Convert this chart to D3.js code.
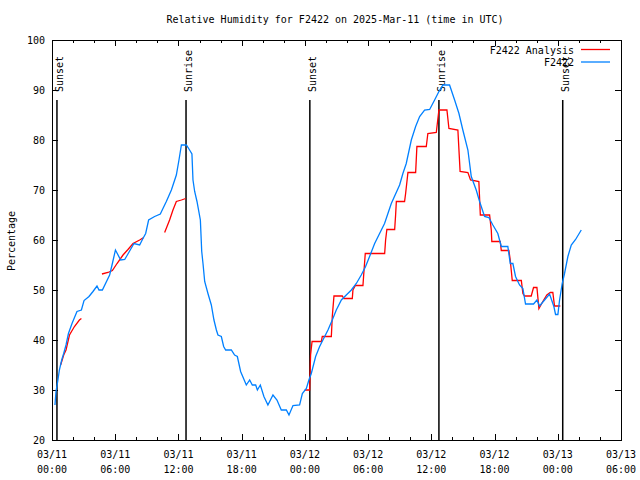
<!DOCTYPE html>
<html>
<head>
<meta charset="utf-8">
<script src="https://cdn.jsdelivr.net/npm/d3@7"></script>
<style>
body { margin: 0; background: #fff; }
text { font-family: "DejaVu Sans Mono", monospace; font-size: 10px; fill: #000; }
.axis path { display: none; }
.axis line { stroke: #000; shape-rendering: crispEdges; }
</style>
</head>
<body>
<svg id="chart" width="640" height="480"></svg>
<script>
// hours after 2025-03-11 00:00 UTC
var obsHours = [0.28, 0.38, 0.54, 0.70, 0.92, 1.11, 1.33, 1.56, 1.90, 2.37, 2.79, 3.04, 3.51, 3.89, 4.27, 4.46, 4.78,
    5.47, 5.73, 6.02, 6.52, 6.90, 7.15, 7.78, 8.32, 8.63, 8.89, 9.17, 9.74, 10.28, 10.53, 10.85, 11.33, 11.80, 12.05,
    12.28, 12.75, 12.97, 13.28, 13.38, 13.54, 13.76, 14.08, 14.21, 14.33, 14.49, 14.80, 15.12, 15.37, 15.60, 15.75,
    16.07, 16.29, 16.48, 17.02, 17.33, 17.59, 17.90, 18.44, 18.76, 19.01, 19.33, 19.49, 19.77, 20.11, 20.49, 20.97,
    21.35, 21.76, 22.24, 22.49, 22.87, 23.50, 23.76, 24.14, 24.38, 24.61, 25.02, 25.40, 25.71, 26.19, 26.60, 26.98,
    27.46, 27.93, 28.41, 28.88, 29.35, 29.76, 30.14, 30.62, 31.09, 31.56, 31.88, 32.20, 32.99, 33.30, 33.62, 34.10,
    34.51, 34.89, 35.36, 35.84, 36.31, 36.72, 37.10, 37.73, 38.21, 38.62, 38.99, 39.47, 39.79, 40.26, 40.58, 41.05,
    41.46, 41.84, 42.31, 42.64, 43.26, 43.49, 43.74, 43.99, 44.37, 44.69, 44.94, 45.70, 46.02, 46.27, 46.75, 47.22,
    47.63, 47.79, 48.01, 48.17, 48.42, 48.64, 48.96, 49.28, 49.69, 50.23];
var obsRH = [27, 29.7, 31.7, 34, 36, 37.3, 39, 41.3, 43.3, 45.7, 46, 47.9, 48.7, 49.7, 50.8, 50, 50,
    53, 55.3, 58, 56, 56.1, 57, 59.3, 59, 60.3, 61.3, 64, 64.7, 65.2, 66.3, 67.7, 70, 73, 76,
    79, 79, 78.3, 77.2, 72, 69.7, 67.7, 64, 57.7, 55.3, 51.7, 49.3, 47, 44, 42, 41,
    40.7, 38.7, 38, 38, 37, 36.7, 33.7, 31, 32, 31, 31, 30, 31, 28.7, 27, 29,
    28, 26, 26, 25, 26.9, 27, 29.3, 30.3, 32, 33.3, 36.7, 38.7, 40, 42, 44, 46,
    48, 49, 50, 51.3, 53, 54.7, 56.7, 59.3, 61.3, 63.3, 65.3, 67.3, 71, 73.3, 75.3, 80,
    82.7, 84.7, 86, 86.1, 88, 89.7, 91, 91, 88, 85.3, 82, 78, 72.7, 70, 67.7, 64.7,
    64.5, 63, 61.3, 58.7, 58.7, 55.3, 55.3, 52.7, 51, 50.3, 47.2, 47.2, 48, 46.8, 48, 49.2,
    46.7, 45.1, 45.1, 48, 51.3, 53.3, 56.7, 59, 60.1, 62];

// null = gap in the analysis line
var anaHours = [0.82, 1.11, 1.33, 1.66, 2.13, 2.60, 2.79, 3.5,
    4.74, 5.31, 5.73, 6.17, 6.74, 7.21, 7.69, 8.32, 8.70, 9.5,
    10.69, 11.16, 11.48, 11.80, 12.28, 12.69, 13.0,
    23.98, 24.45, 24.54, 24.68, 25.56, 25.65, 26.51, 26.60, 26.76, 27.55, 27.70, 28.50, 28.56, 28.79, 29.51,
    29.57, 29.73, 31.57, 31.66, 31.78, 32.52, 32.61, 32.68, 33.46, 33.56, 33.78, 34.51, 34.63, 35.52, 35.67,
    36.47, 36.72, 37.48, 37.67, 38.52, 38.73, 39.47, 39.72, 40.51, 40.65, 41.53, 41.69, 41.74, 42.54, 42.64,
    43.36, 43.49, 43.68, 44.54, 44.69, 44.85, 45.48, 45.70, 46.02, 46.21, 46.58, 46.96, 47.29, 47.53, 47.69, 48.24];
var anaRH = [35, 37, 38, 41, 42.7, 44, 44.3, null,
    53.2, 53.5, 53.9, 55.3, 57, 58.1, 59.3, 60, 60.5, null,
    61.5, 64, 66, 67.7, 68, 68.3, null,
    30, 30, 37, 39.7, 39.7, 40.7, 40.7, 44.7, 48.8, 48.8, 48.3, 48.3, 50, 50.9, 50.9,
    52.7, 57.3, 57.3, 60, 62.1, 62.1, 65, 67.7, 67.7, 69.3, 73.5, 73.5, 78.7, 78.7, 81.3,
    81.5, 86, 86, 82.3, 82, 73.7, 73.5, 72, 71.7, 65, 65, 62, 59.7, 59.7, 57.9,
    57.9, 56, 51.9, 51.9, 49.3, 48.8, 48.8, 50.5, 50.5, 46.3, 47.7, 49, 49.5, 49.5, 46.8, 46.8];

var eventLabels = ["Sunset", "Sunrise", "Sunset", "Sunrise", "Sunset"];
var eventHours = [0.47, 12.72, 24.47, 36.72, 48.47];

var seriesNames = ["F2422 Analysis", "F2422"];
var seriesColors = ["#ff0000", "#0080ff"];
var yTicks = [20, 30, 40, 50, 60, 70, 80, 90, 100];

var titleText = "Relative Humidity for F2422 on 2025-Mar-11 (time in UTC)";
var yLabelText = "Percentage";

var base = Date.UTC(2025, 2, 11);
function toDate(h) { return new Date(base + h * 3600 * 1000); }

var plotLeft = 52, plotRight = 621, plotTop = 40, plotBottom = 440;

var svg = d3.select("#chart");

var x = d3.scaleUtc()
    .domain([toDate(0), toDate(54)])
    .range([plotLeft, plotRight]);

var y = d3.scaleLinear()
    .domain([20, 100])
    .range([plotBottom, plotTop]);

// ticks (inward, mirrored)
var minorTicks = d3.utcHour.every(2).range(toDate(0), toDate(54.01));
var majorTicks = d3.utcHour.every(6).range(toDate(0), toDate(54.01));

svg.append("g").attr("class", "axis")
    .attr("transform", "translate(0," + plotBottom + ")")
    .call(d3.axisBottom(x).tickValues(minorTicks).tickSizeInner(-3).tickFormat(""));
svg.append("g").attr("class", "axis")
    .attr("transform", "translate(0," + plotBottom + ")")
    .call(d3.axisBottom(x).tickValues(majorTicks).tickSizeInner(-6).tickFormat(""));
svg.append("g").attr("class", "axis")
    .attr("transform", "translate(0," + plotTop + ")")
    .call(d3.axisTop(x).tickValues(minorTicks).tickSizeInner(-3).tickFormat(""));
svg.append("g").attr("class", "axis")
    .attr("transform", "translate(0," + plotTop + ")")
    .call(d3.axisTop(x).tickValues(majorTicks).tickSizeInner(-6).tickFormat(""));

svg.append("g").attr("class", "axis")
    .attr("transform", "translate(" + plotLeft + ",0)")
    .call(d3.axisLeft(y).tickValues(yTicks).tickSizeInner(-6).tickFormat(""));
svg.append("g").attr("class", "axis")
    .attr("transform", "translate(" + plotRight + ",0)")
    .call(d3.axisRight(y).tickValues(yTicks).tickSizeInner(-6).tickFormat(""));

// tick labels
svg.append("g").selectAll("text")
    .data(yTicks)
    .join("text")
    .attr("x", plotLeft - 7)
    .attr("y", d => y(d) + 4)
    .attr("text-anchor", "end")
    .text(d => d);

var fmtDay = d3.utcFormat("%m/%d");
var fmtTime = d3.utcFormat("%H:%M");
var xl = svg.append("g").selectAll("g")
    .data(majorTicks)
    .join("g");
xl.append("text")
    .attr("x", d => x(d))
    .attr("y", 458)
    .attr("text-anchor", "middle")
    .text(d => fmtDay(d));
xl.append("text")
    .attr("x", d => x(d))
    .attr("y", 473)
    .attr("text-anchor", "middle")
    .text(d => fmtTime(d));

// border
svg.append("rect")
    .attr("x", plotLeft + 0.5)
    .attr("y", plotTop + 0.5)
    .attr("width", plotRight - plotLeft)
    .attr("height", plotBottom - plotTop)
    .attr("fill", "none")
    .attr("stroke", "#000")
    .attr("stroke-width", 1);

// sunset / sunrise markers
var ev = svg.append("g").selectAll("g")
    .data(eventHours.map((h, i) => ({ h: h, label: eventLabels[i] })))
    .join("g");
ev.append("line")
    .attr("x1", d => x(toDate(d.h)))
    .attr("x2", d => x(toDate(d.h)))
    .attr("y1", y(88))
    .attr("y2", plotBottom)
    .attr("stroke", "#000")
    .attr("stroke-width", 1.5);
ev.append("text")
    .attr("transform", d => "translate(" + (x(toDate(d.h)) + 2.5) + "," + y(89.6) + ") rotate(-90)")
    .attr("dominant-baseline", "central")
    .attr("text-anchor", "start")
    .text(d => d.label);

// series
var line = d3.line()
    .defined(d => d[1] != null)
    .x(d => x(toDate(d[0])))
    .y(d => y(d[1]));

var anaData = anaHours.map((h, i) => [h, anaRH[i]]);
var obsData = obsHours.map((h, i) => [h, obsRH[i]]);

svg.append("path")
    .datum(anaData)
    .attr("d", line)
    .attr("fill", "none")
    .attr("stroke", seriesColors[0])
    .attr("stroke-width", 1.3);

svg.append("path")
    .datum(obsData)
    .attr("d", line)
    .attr("fill", "none")
    .attr("stroke", seriesColors[1])
    .attr("stroke-width", 1.3);

// legend
var lg = svg.append("g").selectAll("g")
    .data(seriesNames)
    .join("g")
    .attr("transform", (d, i) => "translate(0," + (49.5 + i * 12.5) + ")");
lg.append("text")
    .attr("x", 574)
    .attr("y", 4)
    .attr("text-anchor", "end")
    .text(d => d);
lg.append("line")
    .attr("x1", 581)
    .attr("x2", 610)
    .attr("stroke", (d, i) => seriesColors[i])
    .attr("stroke-width", 1.3);

// title and y label
svg.append("text")
    .attr("x", 335)
    .attr("y", 23)
    .attr("text-anchor", "middle")
    .text(titleText);

svg.append("text")
    .attr("transform", "translate(11,241) rotate(-90)")
    .attr("text-anchor", "middle")
    .attr("dominant-baseline", "central")
    .text(yLabelText);
</script>
</body>
</html>
